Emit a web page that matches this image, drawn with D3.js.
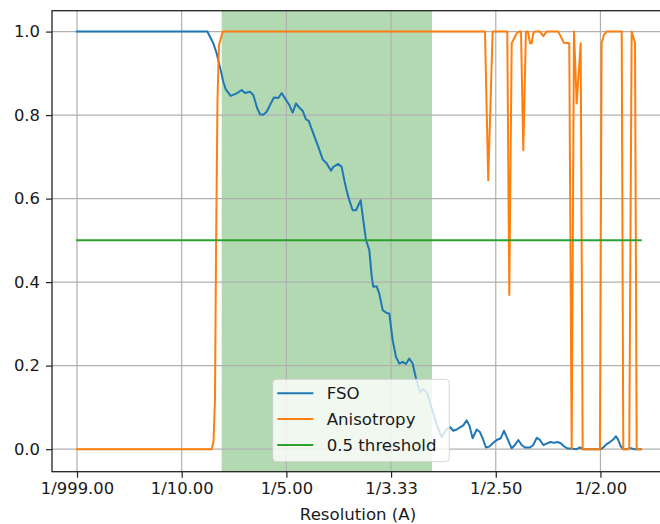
<!DOCTYPE html>
<html>
<head>
<meta charset="utf-8">
<script src="https://cdn.jsdelivr.net/npm/d3@7"></script>
<style>
  body { margin: 0; background: #fff; }
  svg { display: block; font-family: "DejaVu Sans", sans-serif; }
</style>
</head>
<body>
<svg width="660" height="524"></svg>
<script>
// spatial frequency (1/A) and FSO value
var fsoFreq = [0, 0.1245, 0.1302, 0.1334, 0.1372, 0.1397, 0.1420, 0.1468, 0.1525, 0.1573,
  0.1605, 0.1652, 0.1684, 0.1722, 0.1748, 0.1779, 0.1812, 0.1843, 0.1882, 0.1923,
  0.1955, 0.1987, 0.2028, 0.2060, 0.2092, 0.2123, 0.2156, 0.2187, 0.2213, 0.2257,
  0.2305, 0.2347, 0.2385, 0.2426, 0.2448, 0.2496, 0.2528, 0.2560, 0.2591, 0.2633,
  0.2665, 0.2710, 0.2734, 0.2760, 0.2792, 0.2815, 0.2830, 0.2862, 0.2887, 0.2920,
  0.2958, 0.2983, 0.3015, 0.3047, 0.3078, 0.3111, 0.3142, 0.3174, 0.3206, 0.3238,
  0.3276, 0.3308, 0.3346, 0.3388, 0.3435, 0.3483, 0.3524, 0.3563, 0.3594, 0.3627,
  0.3658, 0.3690, 0.3722, 0.3747, 0.3779, 0.3818, 0.3849, 0.3881, 0.3906, 0.3938,
  0.3970, 0.4009, 0.4047, 0.4078, 0.4110, 0.4152, 0.4183, 0.4215, 0.4247, 0.4279,
  0.4327, 0.4358, 0.4391, 0.4422, 0.4454, 0.4492, 0.4524, 0.4556, 0.4587, 0.4620,
  0.4651, 0.4683, 0.4725, 0.4773, 0.4804, 0.4836, 0.4964, 0.5002, 0.5027, 0.5059,
  0.5091, 0.5122, 0.5148, 0.5170, 0.5193, 0.5218, 0.5250, 0.5275, 0.5298, 0.5320,
  0.5384];
var fsoValue = [1, 1, 0.972, 0.948, 0.908, 0.880, 0.862, 0.846, 0.852, 0.860,
  0.853, 0.856, 0.848, 0.816, 0.802, 0.801, 0.808, 0.824, 0.842, 0.841,
  0.853, 0.840, 0.824, 0.806, 0.828, 0.818, 0.810, 0.790, 0.786, 0.756,
  0.724, 0.694, 0.684, 0.667, 0.676, 0.683, 0.676, 0.636, 0.604, 0.572,
  0.572, 0.596, 0.549, 0.501, 0.477, 0.413, 0.389, 0.390, 0.373, 0.333,
  0.326, 0.325, 0.261, 0.221, 0.205, 0.209, 0.204, 0.217, 0.205, 0.169,
  0.137, 0.144, 0.133, 0.098, 0.060, 0.029, 0.046, 0.053, 0.044, 0.047,
  0.052, 0.057, 0.069, 0.057, 0.026, 0.047, 0.041, 0.022, 0.004, 0.006,
  0.014, 0.022, 0.026, 0.044, 0.026, 0.002, 0.010, 0.022, 0.010, 0.004,
  0.004, 0.010, 0.027, 0.022, 0.010, 0.014, 0.017, 0.015, 0.017, 0.014,
  0.007, 0.002, 0.001, 0.000, 0.004, 0.000, 0.000, 0.000, 0.004, 0.012,
  0.017, 0.023, 0.031, 0.022, 0.007, 0.000, 0.000, 0.002, 0.002, 0.000,
  0.000];

var anisoFreq = [0, 0.1287, 0.1304, 0.1318, 0.1328, 0.1342, 0.1356, 0.1392, 0.3897, 0.3928,
  0.3970, 0.4110, 0.4129, 0.4152, 0.4200, 0.4225, 0.4241, 0.4263, 0.4288, 0.4308,
  0.4327, 0.4343, 0.4358, 0.4374, 0.4422, 0.4454, 0.4486, 0.4597, 0.4651, 0.4702,
  0.4725, 0.4747, 0.4773, 0.4811, 0.4830, 0.4995, 0.5011, 0.5033, 0.5059, 0.5203,
  0.5218, 0.5275, 0.5298, 0.5330, 0.5346, 0.5384];
var anisoValue = [0, 0, 0.019, 0.117, 0.477, 0.836, 0.968, 1, 1, 0.644,
  1, 1, 0.369, 0.972, 0.996, 1, 1, 0.716, 1, 1,
  0.972, 0.972, 0.996, 1, 1, 0.989, 1, 1, 0.973, 0.972,
  0, 1, 0.828, 0.972, 0, 0, 0.972, 0.992, 1, 1,
  0, 0, 1, 0.972, 0, 0];

var threshold = 0.5;
var thresholdFreq = [0, 0.5384];
var bandFreq = [0.1382, 0.3391];

var xTicks = [0, 0.1, 0.2, 0.3, 0.4, 0.5];
var xTickLabels = ["1/999.00", "1/10.00", "1/5.00", "1/3.33", "1/2.50", "1/2.00"];
var yTicks = [0, 0.2, 0.4, 0.6, 0.8, 1.0];

var seriesNames = ["FSO", "Anisotropy", "0.5 threshold"];
var seriesColors = ["#1f77b4", "#ff7f0e", "#2ca02c"];

var svg = d3.select("svg");
var plotLeft = 52, plotRight = 666, plotTop = 10.7, plotBottom = 471.7;

var x = d3.scaleLinear().domain([-0.02388, 0.5626]).range([plotLeft, plotRight]);
var y = d3.scaleLinear().domain([-0.054, 1.05]).range([plotBottom, plotTop]);

// shaded band (below the grid, like matplotlib)
svg.append("rect")
    .attr("x", x(bandFreq[0]))
    .attr("width", x(bandFreq[1]) - x(bandFreq[0]))
    .attr("y", plotTop).attr("height", plotBottom - plotTop)
    .attr("fill", "green").attr("fill-opacity", 0.3);

// grid
var grid = svg.append("g");
grid.selectAll(".gx").data(xTicks).enter().append("line")
    .attr("x1", d => x(d)).attr("x2", d => x(d))
    .attr("y1", plotTop).attr("y2", plotBottom)
    .attr("stroke", "#b0b0b0").attr("stroke-width", 1.2);
grid.selectAll(".gy").data(yTicks).enter().append("line")
    .attr("x1", plotLeft).attr("x2", plotRight)
    .attr("y1", d => y(d)).attr("y2", d => y(d))
    .attr("stroke", "#b0b0b0").attr("stroke-width", 1.2);

var line = d3.line().x(d => x(d[0])).y(d => y(d[1]));

var fso = fsoFreq.map((f, i) => [f, fsoValue[i]]);
var aniso = anisoFreq.map((f, i) => [f, anisoValue[i]]);
var thr = thresholdFreq.map(f => [f, threshold]);

[fso, aniso, thr].forEach(function(s, i) {
  svg.append("path")
      .datum(s)
      .attr("d", line)
      .attr("fill", "none")
      .attr("stroke", seriesColors[i])
      .attr("stroke-width", 2)
      .attr("stroke-linejoin", "round")
      .attr("stroke-linecap", "square");
});

// axes
var xAxis = d3.axisBottom(x).tickValues(xTicks)
    .tickFormat((d, i) => xTickLabels[i]).tickSize(6).tickPadding(5);
var yAxis = d3.axisLeft(y).tickValues(yTicks)
    .tickFormat(d3.format(".1f")).tickSize(6).tickPadding(6);

var gx = svg.append("g").attr("transform", "translate(0," + plotBottom + ")").call(xAxis);
var gy = svg.append("g").attr("transform", "translate(" + plotLeft + ",0)").call(yAxis);
[gx, gy].forEach(function(g) {
  g.select(".domain").remove();
  g.selectAll("line").attr("stroke", "#222").attr("stroke-width", 1.2);
  g.selectAll("text").attr("fill", "#1a1a1a")
      .style("font-family", "DejaVu Sans").style("font-size", "16.4px");
});

// spines
svg.append("rect")
    .attr("x", plotLeft).attr("y", plotTop)
    .attr("width", plotRight - plotLeft).attr("height", plotBottom - plotTop)
    .attr("fill", "none").attr("stroke", "#222").attr("stroke-width", 1.3);

svg.append("text")
    .attr("x", (plotLeft + plotRight) / 2 - 1).attr("y", 520)
    .attr("text-anchor", "middle")
    .attr("fill", "#1a1a1a")
    .style("font-size", "16.6px")
    .text("Resolution (A)");

// legend
var legend = svg.append("g").attr("transform", "translate(272.7,379.3)");
legend.append("rect")
    .attr("width", 176.6).attr("height", 82.4)
    .attr("rx", 4).attr("ry", 4)
    .attr("fill", "#fff").attr("fill-opacity", 0.8)
    .attr("stroke", "#cccccc").attr("stroke-opacity", 0.8);
seriesNames.forEach(function(name, i) {
  var cy = 14 + i * 25.8;
  legend.append("line")
      .attr("x1", 4.6).attr("x2", 40.6)
      .attr("y1", cy).attr("y2", cy)
      .attr("stroke", seriesColors[i]).attr("stroke-width", 2);
  legend.append("text")
      .attr("x", 54).attr("y", cy).attr("dy", "0.36em")
      .attr("fill", "#1a1a1a")
      .style("font-size", "16.6px")
      .text(name);
});
</script>
</body>
</html>
